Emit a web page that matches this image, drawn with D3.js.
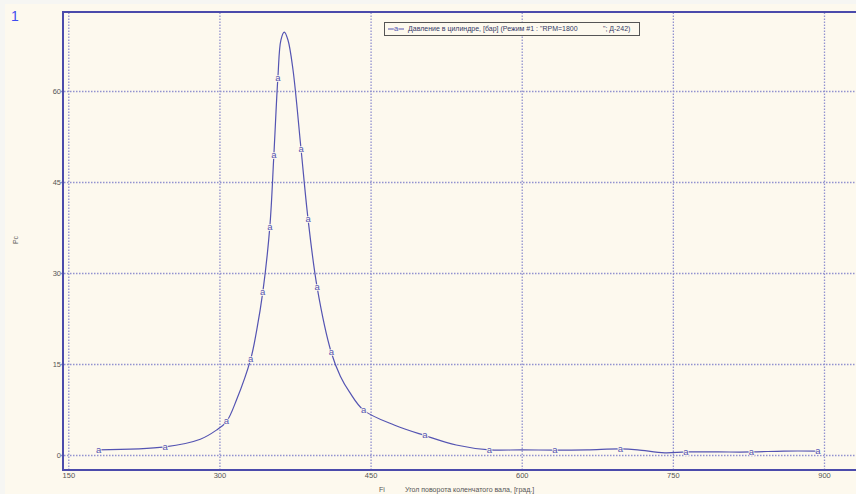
<!DOCTYPE html>
<html><head><meta charset="utf-8">
<script src="https://cdn.jsdelivr.net/npm/d3@7"></script>
<style>
html,body{margin:0;padding:0;background:#fdf9ee;}
svg{display:block;}
text{font-family:"Liberation Sans",Arial,sans-serif;}
</style></head>
<body>
<svg id="c" width="856" height="494"></svg>
<script>
// ---- data ----
const angle    = [180, 246, 281, 297, 307, 317, 331, 337, 343, 350, 354, 358, 361, 364.4, 368, 373, 381, 388, 397, 411, 420, 429, 443, 474, 504, 535, 568, 600, 633, 665, 698, 715, 742, 763, 795, 828, 860, 894];
const pressure = [0.85, 1.35, 2.6, 4.1, 5.5, 9.1, 15.8, 20.6, 26.8, 37.6, 49.4, 62.2, 68.4, 69.7, 68.4, 63.5, 50.4, 38.8, 27.6, 16.9, 13.0, 10.4, 7.4, 4.9, 3.2, 1.65, 0.85, 0.85, 0.8, 0.85, 1.0, 0.85, 0.35, 0.5, 0.5, 0.5, 0.65, 0.65];
const markerIdx = [0, 1, 4, 6, 8, 9, 10, 11, 16, 17, 18, 19, 22, 24, 26, 28, 30, 33, 35, 37];
const xTicks = [150, 300, 450, 600, 750, 900];
const yTicks = [0, 15, 30, 45, 60];
const legendText = "Давление в цилиндре, [бар] (Режим #1 : \"RPM=1800             \"; Д-242)";
const xTitle = "Угол поворота коленчатого вала, [град.]";
const xName = "Fi";
const yName = "Pc";
const chartNo = "1";

// ---- drawing ----
const svg = d3.select("#c");
const frameL = 63, frameT = 12, frameB = 470, frameR = 870;
const x = d3.scaleLinear().domain([150, 900]).range([68.3, 824]);
const y = d3.scaleLinear().domain([0, 60]).range([455, 91]);
const gridCol = "#9292cf", frameCol = "#4b4bab", lineCol = "#5454b2";

// light outer strips
svg.append("rect").attr("x",0).attr("y",0).attr("width",5).attr("height",494).attr("fill","#f6f6f3");
svg.append("rect").attr("x",0).attr("y",0).attr("width",856).attr("height",4).attr("fill","#f6f6f3");

// grid
const gx = svg.append("g").attr("transform",`translate(0,${frameB})`)
  .call(d3.axisBottom(x).tickValues(xTicks).tickSize(-(frameB-frameT)).tickFormat(""));
gx.select(".domain").remove();
gx.selectAll("line").attr("stroke",gridCol).attr("stroke-width",1.3).attr("stroke-dasharray","1.5,1.5");
const gy = svg.append("g").attr("transform",`translate(${frameL-2},0)`)
  .call(d3.axisRight(y).tickValues(yTicks).tickSize(frameR-frameL).tickFormat(""));
gy.select(".domain").remove();
gy.selectAll("line").attr("stroke",gridCol).attr("stroke-width",1.3).attr("stroke-dasharray","1.5,1.5");

// frame
svg.append("line").attr("x1",frameL).attr("x2",frameR).attr("y1",frameT).attr("y2",frameT).attr("stroke",frameCol).attr("stroke-width",2);
svg.append("line").attr("x1",frameL).attr("x2",frameR).attr("y1",frameB).attr("y2",frameB).attr("stroke",frameCol).attr("stroke-width",2);
svg.append("line").attr("x1",frameL).attr("x2",frameL).attr("y1",frameT-1).attr("y2",frameB+1).attr("stroke",frameCol).attr("stroke-width",2);

// axes labels
const ax = svg.append("g").attr("transform",`translate(0,${frameB})`)
  .call(d3.axisBottom(x).tickValues(xTicks).tickSize(0).tickPadding(3));
ax.select(".domain").remove();
ax.selectAll("text").attr("font-size",7.5).attr("fill","#555").attr("font-family","Liberation Sans, Arial");
const ay = svg.append("g").attr("transform",`translate(${frameL-1},0)`)
  .call(d3.axisLeft(y).tickValues(yTicks).tickSize(0).tickPadding(1));
ay.select(".domain").remove();
ay.selectAll("text").attr("font-size",7.5).attr("fill","#555").attr("font-family","Liberation Sans, Arial");

// curve
const pts = angle.map((a,i)=>[a, pressure[i]]);
svg.append("path").datum(pts)
  .attr("d", d3.line().x(d=>x(d[0])).y(d=>y(d[1])).curve(d3.curveCatmullRom.alpha(0.5)))
  .attr("fill","none").attr("stroke",lineCol).attr("stroke-width",1.2);

// markers
svg.append("g").selectAll("text").data(markerIdx).join("text")
  .attr("x", i=>x(angle[i])).attr("y", i=>y(pressure[i]))
  .attr("dy","0.3em").attr("text-anchor","middle")
  .attr("font-size",9.5).attr("fill",lineCol)
  .attr("stroke","#fdf9ee").attr("stroke-width",1.5).attr("paint-order","stroke")
  .text("a");

// legend
const lg = svg.append("g");
lg.append("rect").attr("x",384.5).attr("y",22.5).attr("width",255).attr("height",13)
  .attr("fill","#fdf9ee").attr("stroke","#555").attr("stroke-width",1);
lg.append("line").attr("x1",388).attr("x2",404).attr("y1",29).attr("y2",29).attr("stroke",lineCol).attr("stroke-width",1);
lg.append("text").attr("x",396).attr("y",29).attr("dy","0.3em").attr("text-anchor","middle")
  .attr("font-size",7.5).attr("fill",lineCol).attr("stroke","#fdf9ee").attr("stroke-width",1.2).attr("paint-order","stroke").text("a");
lg.append("text").attr("x",408).attr("y",29).attr("dy","0.35em").attr("font-size",7)
  .attr("fill","#333a66").attr("xml:space","preserve").style("white-space","pre").text(legendText);

// titles
svg.append("text").attr("x",16).attr("y",240).attr("transform","rotate(-90,16,240)")
  .attr("text-anchor","middle").attr("dy","0.35em").attr("font-size",7).attr("fill","#555").text(yName);
svg.append("text").attr("x",382).attr("y",490).attr("dy","0.35em").attr("text-anchor","middle").attr("font-size",7).attr("fill","#555").text(xName);
svg.append("text").attr("x",405).attr("y",490).attr("dy","0.35em").attr("font-size",7).attr("fill","#555").text(xTitle);
svg.append("text").attr("x",11).attr("y",16).attr("dy","0.35em").attr("font-size",14).attr("fill","#3f4cf0").text(chartNo);
</script>
</body></html>
